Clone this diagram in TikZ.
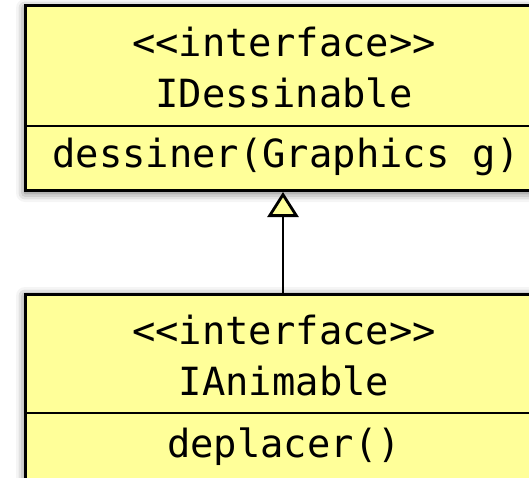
\documentclass[tikz,border=0pt]{standalone}
\usepackage{fontspec}
\setmonofont{DejaVu Sans Mono}
\usetikzlibrary{arrows.meta,shadows.blur}
\definecolor{umlyellow}{RGB}{255,255,153}
\tikzset{
  umlbox/.style={draw=black, line width=3pt, fill=umlyellow, rectangle, inner sep=0pt,
    blur shadow={shadow xshift=0pt, shadow yshift=-2pt, shadow blur radius=9pt, shadow opacity=60}},
  divider/.style={draw=black, line width=1.8pt},
  umltext/.style={font=\ttfamily\fontsize{38.8}{42}\selectfont, anchor=base, inner sep=0pt},
  realize/.style={draw=black, line width=2.8pt, -{Triangle[length=25pt, width=31pt, fill=umlyellow]}}
}
\begin{document}
\begin{tikzpicture}[x=1pt,y=-1pt]
\clip (0,0) rectangle (529,478);
\useasboundingbox (0,0) rectangle (529,478);
% top interface
\node[umlbox, minimum width=518pt, minimum height=185pt] (top) at (284,98.5) {};
\draw[divider] (25,126) -- (543,126);
\node[umltext] (t1) at (284,57) {<<interface>>};
\node[umltext] (t2) at (284,108) {IDessinable};
\node[umltext] (t3) at (286,168) {dessiner(Graphics g)};
% bottom interface
\node[umlbox, minimum width=518pt, minimum height=236pt] (bot) at (284,412) {};
\draw[divider] (25,413) -- (543,413);
\node[umltext] (b1) at (284,344) {<<interface>>};
\node[umltext] (b2) at (284,395) {IAnimable};
\node[umltext] (b3) at (284,457) {deplacer()};
% realization arrow
\coordinate (tipend) at (283,192);
\coordinate (tailend) at (283,293);
\draw[realize] (tailend) -- (tipend);
\end{tikzpicture}
\end{document}
